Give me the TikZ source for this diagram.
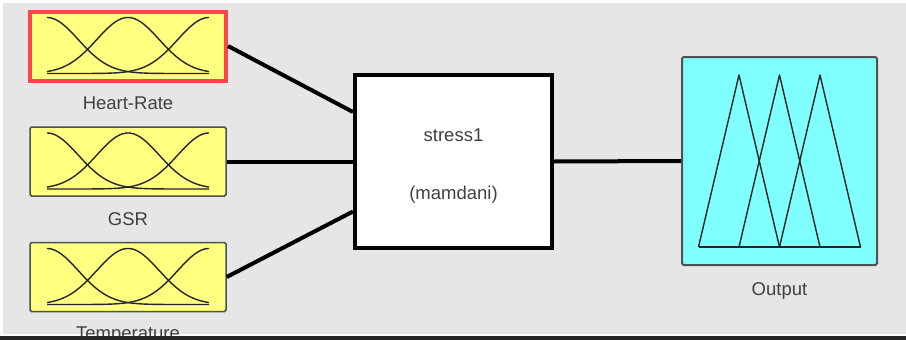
\documentclass[tikz,border=0pt]{standalone}
\usepackage{fontspec}
\setmainfont{Liberation Sans}
\usetikzlibrary{calc}
\definecolor{bg}{HTML}{E6E6E6}
\definecolor{mfyellow}{HTML}{FFFF80}
\definecolor{selred}{HTML}{FF4545}
\definecolor{outcyan}{HTML}{80FFFF}
\definecolor{txtgray}{HTML}{404040}
\definecolor{boxgray}{HTML}{505050}
\tikzset{
  inbox/.style={draw=boxgray, line width=1.5pt, fill=mfyellow, minimum width=196pt, minimum height=69pt, inner sep=0pt, rounded corners=1.5pt},
  selbox/.style={inbox, draw=selred, line width=4pt, rounded corners=0pt},
  rulebox/.style={draw=black, line width=4pt, fill=white, minimum width=197pt, minimum height=173pt, inner sep=0pt},
  outbox/.style={draw=boxgray, line width=2pt, fill=outcyan, minimum width=195pt, minimum height=208pt, inner sep=0pt, rounded corners=1.5pt},
  lbl/.style={text=txtgray, font=\fontsize{18.5}{22}\selectfont, anchor=base, inner sep=0pt},
  conn/.style={line width=4pt, black},
  mfline/.style={line width=1.4pt, black!85, line join=round},
  gauss/.pic={
    \draw[mfline] plot[domain=-81:81, samples=90, smooth] (\x,{27.5-56*exp(-((\x+81)/31.2)^2/2)});
    \draw[mfline] plot[domain=-81:81, samples=90, smooth] (\x,{27.5-56*exp(-((\x)/31.2)^2/2)});
    \draw[mfline] plot[domain=-81:81, samples=90, smooth] (\x,{27.5-56*exp(-((\x-81)/31.2)^2/2)});
  },
  tris/.pic={
    \draw[mfline] (-81,86) -- (-40.5,-86) -- (0,86);
    \draw[mfline] (-40.5,86) -- (0,-86) -- (40.5,86);
    \draw[mfline] (0,86) -- (40.5,-86) -- (81,86);
    \draw[mfline] (-81,86) -- (81,86);
  }
}
\begin{document}
\begin{tikzpicture}[x=1pt,y=-1pt]
\useasboundingbox (0,0) rectangle (906,340);
\fill[white] (0,0) rectangle (906,340);
\fill[bg] (3,3) rectangle (906,334);

\node[selbox] (hr) at (128,46) {};
\node[inbox] (gsr) at (128,161.5) {};
\node[inbox] (temp) at (128,277) {};
\node[rulebox] (fis) at (453.5,161.5) {};
\node[outbox] (out) at (779.5,161) {};

\pic at (hr) {gauss};
\pic at (gsr) {gauss};
\pic at (temp) {gauss};
\pic at (out) {tris};

\draw[conn] (hr.east) -- ([yshift=49.5pt]fis.west);
\draw[conn] (gsr.east) -- (fis.west);
\draw[conn] (temp.east) -- ([yshift=-50pt]fis.west);
\draw[conn] (fis.east) -- (out.west);

\node[lbl] (hrl) at (128,109) {Heart-Rate};
\node[lbl] (gsrl) at (128,225) {GSR};
\node[lbl] (templ) at (128,339) {Temperature};
\node[lbl] (outl) at (779.5,295) {Output};
\node[lbl] (fisn) at (453.5,141) {stress1};
\node[lbl] (fist) at (453.5,199) {(mamdani)};

\fill[black!85] (0,336) rectangle (906,340);
\end{tikzpicture}
\end{document}
